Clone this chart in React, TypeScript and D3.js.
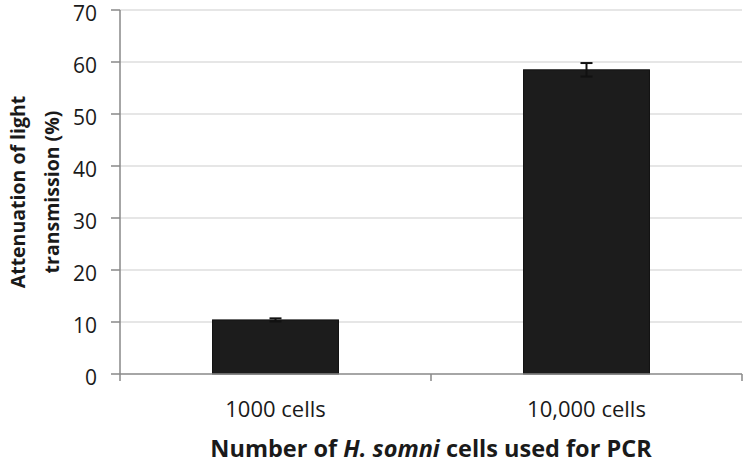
import { useRef, useEffect } from 'react';
import * as d3 from 'd3';

const categories = ['1000 cells', '10,000 cells'];
const values = [10.4, 58.5];
const errors = [0.3, 1.3];
const yTicks = [0, 10, 20, 30, 40, 50, 60, 70];
const yTitleLines = ['Attenuation of light', 'transmission (%)'];

export default function App() {
  const svgRef = useRef<SVGSVGElement>(null);

  const width = 748,
    height = 464,
    marginTop = 10,
    marginRight = 6,
    marginBottom = 90,
    marginLeft = 120;

  const x = d3
    .scaleBand()
    .domain(categories)
    .range([marginLeft, width - marginRight]);

  const y = d3
    .scaleLinear()
    .domain([0, 70])
    .range([height - marginBottom, marginTop]);

  const barW = x.bandwidth() * 0.405;

  useEffect(() => {
    const svg = d3.select(svgRef.current);
    svg.selectAll('*').remove();

    // gridlines
    svg
      .append('g')
      .selectAll('line')
      .data(yTicks.slice(1))
      .join('line')
      .attr('x1', marginLeft)
      .attr('x2', width - marginRight)
      .attr('y1', (d) => y(d))
      .attr('y2', (d) => y(d))
      .attr('stroke', '#dedede')
      .attr('stroke-width', 1.5);

    // bars
    const data = categories.map((c, i) => ({ c, v: values[i], e: errors[i] }));
    svg
      .append('g')
      .selectAll('rect')
      .data(data)
      .join('rect')
      .attr('x', (d) => x(d.c)! + x.bandwidth() / 2 - barW / 2)
      .attr('y', (d) => y(d.v))
      .attr('width', barW)
      .attr('height', (d) => y(0) - y(d.v))
      .attr('fill', '#1c1c1c')
      .attr('stroke', '#111')
      .attr('stroke-width', 1);

    // error bars
    const eg = svg.append('g').attr('stroke', '#111').attr('stroke-width', 2);
    data.forEach((d) => {
      const cx = x(d.c)! + x.bandwidth() / 2;
      eg.append('line').attr('x1', cx).attr('x2', cx).attr('y1', y(d.v + d.e)).attr('y2', y(d.v - d.e));
      eg.append('line').attr('x1', cx - 6).attr('x2', cx + 6).attr('y1', y(d.v + d.e)).attr('y2', y(d.v + d.e));
      eg.append('line').attr('x1', cx - 6).attr('x2', cx + 6).attr('y1', y(d.v - d.e)).attr('y2', y(d.v - d.e));
    });

    // y axis
    const ay = svg.append('g').attr('stroke', '#888').attr('stroke-width', 1.5);
    ay.append('line').attr('x1', marginLeft).attr('x2', marginLeft).attr('y1', y(70)).attr('y2', y(0));
    ay.selectAll('line.t')
      .data(yTicks)
      .join('line')
      .attr('class', 't')
      .attr('x1', marginLeft - 9)
      .attr('x2', marginLeft)
      .attr('y1', (d) => y(d))
      .attr('y2', (d) => y(d));

    svg
      .append('g')
      .selectAll('text')
      .data(yTicks)
      .join('text')
      .attr('x', 97)
      .attr('y', (d) => y(d) + 11)
      .attr('text-anchor', 'end')
      .attr('font-size', 21)
      .attr('fill', '#1a1a1a')
      .text((d) => d);

    // x axis
    const ax = svg.append('g').attr('stroke', '#888').attr('stroke-width', 1.5);
    ax.append('line').attr('x1', marginLeft).attr('x2', width - marginRight).attr('y1', y(0)).attr('y2', y(0));
    const edges = [...categories.map((c) => x(c)!), width - marginRight];
    ax.selectAll('line.t')
      .data(edges)
      .join('line')
      .attr('class', 't')
      .attr('x1', (d) => d)
      .attr('x2', (d) => d)
      .attr('y1', y(0))
      .attr('y2', y(0) + 7);

    svg
      .append('g')
      .selectAll('text')
      .data(categories)
      .join('text')
      .attr('x', (d) => x(d)! + x.bandwidth() / 2)
      .attr('y', 417)
      .attr('text-anchor', 'middle')
      .attr('font-size', 22)
      .attr('fill', '#1a1a1a')
      .text((d) => d);

    // axis titles
    const yMid = (y(0) + y(70)) / 2;
    svg
      .append('g')
      .selectAll('text')
      .data(yTitleLines)
      .join('text')
      .attr('transform', (_, i) => `translate(${25 + i * 34},${yMid}) rotate(-90)`)
      .attr('text-anchor', 'middle')
      .attr('font-size', 19.5)
      .attr('font-weight', 'bold')
      .attr('fill', '#1a1a1a')
      .text((d) => d);

    const xt = svg
      .append('text')
      .attr('x', (marginLeft + width - marginRight) / 2)
      .attr('y', 457)
      .attr('text-anchor', 'middle')
      .attr('font-size', 23.5)
      .attr('font-weight', 'bold')
      .attr('fill', '#1a1a1a');
    xt.append('tspan').text('Number of ');
    xt.append('tspan').attr('font-style', 'italic').text('H. somni');
    xt.append('tspan').text(' cells used for PCR');
  }, []);

  return (
    <svg
      ref={svgRef}
      width={width}
      height={height}
      style={{ position: 'absolute', left: 0, top: 0, fontFamily: '"Open Sans", sans-serif', background: '#fff' }}
    />
  );
}
